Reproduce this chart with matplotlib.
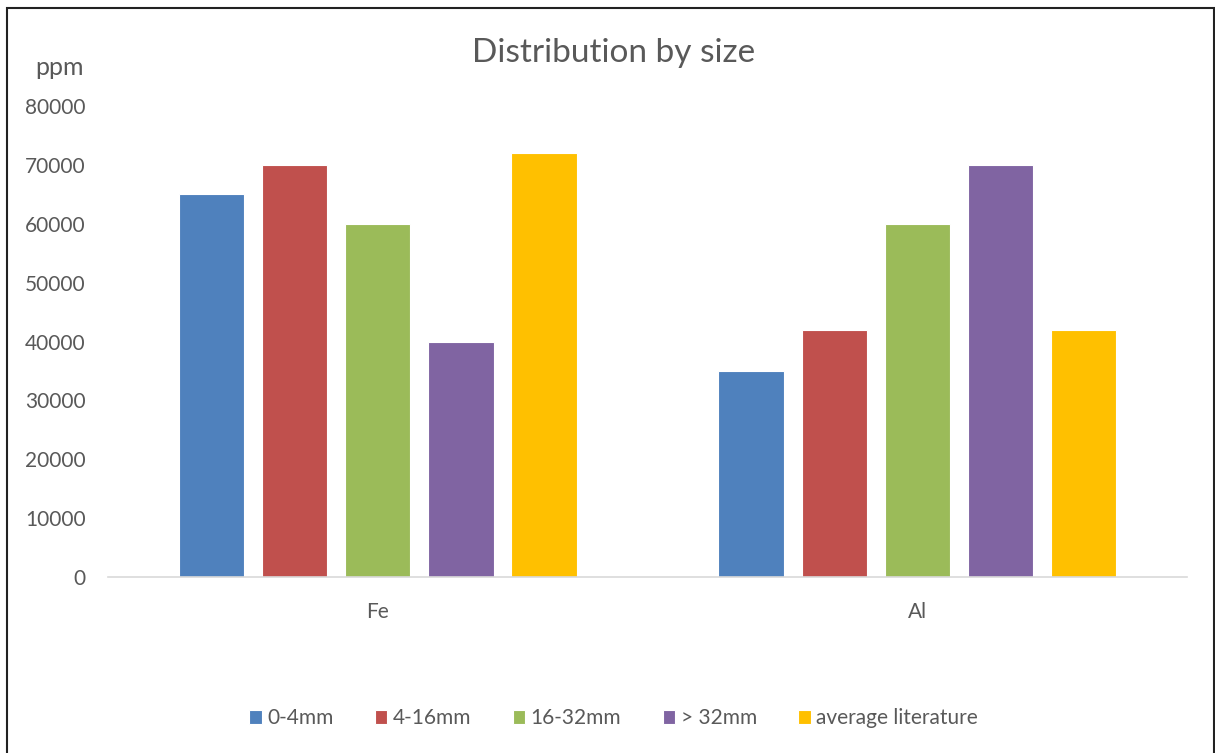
import numpy as np
import matplotlib.pyplot as plt
from matplotlib.patches import Rectangle

plt.rcParams['font.family'] = ['Lato', 'DejaVu Sans']

categories = ['Fe', 'Al']
series_names = ['0-4mm', '4-16mm', '16-32mm', '> 32mm', 'average literature']
values = [
    [65000, 35000],   # 0-4mm
    [70000, 42000],   # 4-16mm
    [60000, 60000],   # 16-32mm
    [40000, 70000],   # > 32mm
    [72000, 42000],   # average literature
]
colors = ['#4F81BD', '#C0504D', '#9BBB59', '#8064A2', '#FFC000']
yticks = [0, 10000, 20000, 30000, 40000, 50000, 60000, 70000, 80000]

text_col = '#595959'

fig = plt.figure(figsize=(12.15, 7.53), dpi=100)
ax = fig.add_axes([0.0889, 0.2337, 0.8881, 0.6253])

x = np.arange(len(categories))
step = 0.154
width = 0.121
for i, (name, vals) in enumerate(zip(series_names, values)):
    ax.bar(x + (i - 2) * step, vals, width, color=colors[i], label=name,
           edgecolor='white', linewidth=0.8, zorder=2)

ax.set_xlim(-0.5, 1.5)
ax.set_ylim(0, 80000)
ax.set_yticks(yticks)
ax.set_yticklabels([str(v) for v in yticks])
ax.set_xticks(x)
ax.set_xticklabels(categories)
ax.tick_params(axis='both', length=0, colors=text_col, labelsize=15)
ax.tick_params(axis='y', pad=16)
ax.tick_params(axis='x', pad=18)
for s in ['top', 'right', 'left']:
    ax.spines[s].set_visible(False)
ax.spines['bottom'].set_color('#D9D9D9')
ax.spines['bottom'].set_linewidth(1.2)

fig.text(0.505, 0.929, 'Distribution by size', ha='center', va='center',
         fontsize=24, color=text_col)
fig.text(0.029, 0.911, 'ppm', ha='left', va='center', fontsize=18, color=text_col)

ax.legend(loc='center', bbox_to_anchor=(0.505, 0.046), bbox_transform=fig.transFigure,
          ncol=5, frameon=False, fontsize=15, labelcolor=text_col,
          handlelength=0.6, handleheight=0.6, handletextpad=0.25, columnspacing=2.0)

fig.patches.append(Rectangle((0.006, -0.01), 0.993, 0.999, transform=fig.transFigure,
                             fill=False, edgecolor='#222222', linewidth=1.5))

fig.savefig('out.png', dpi=100)
